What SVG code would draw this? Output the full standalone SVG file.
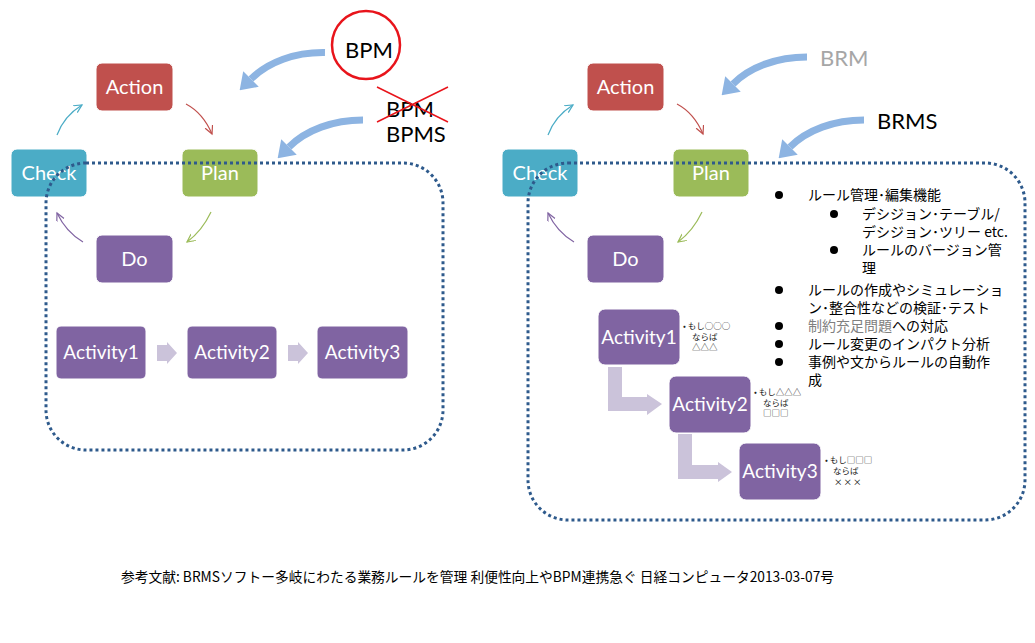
<svg xmlns="http://www.w3.org/2000/svg" width="1035" height="643" viewBox="0 0 1035 643">
<defs>
<style>
.box{stroke:#ffffff;stroke-width:1}
.act{fill:#C0504D}.chk{fill:#4BACC6}.pln{fill:#9BBB59}.pur{fill:#8064A2}
.nt{font-family:Lato,"Liberation Sans",sans-serif;font-size:20px;fill:#ffffff;text-anchor:middle}
.at{font-family:Lato,"Liberation Sans",sans-serif;font-size:19px;fill:#ffffff;text-anchor:middle}
.big{fill:none;stroke:#8DB4E2;stroke-width:7}
.thin{fill:none;stroke-width:1.2}
.dot{fill:none;stroke:#2E5A8C;stroke-width:3;stroke-dasharray:3 3}
.chev{fill:#CBC3DA}
.lbl{font-family:Lato,"Liberation Sans",sans-serif;font-size:22px}
.jp{font-family:"Noto Sans CJK JP",sans-serif;font-size:14px;fill:#000000}
.note{font-family:"Noto Sans CJK JP",sans-serif;font-size:8.5px;fill:#222222}
</style>
<marker id="bh" markerUnits="userSpaceOnUse" markerWidth="16" markerHeight="22" refX="0" refY="11" orient="auto"><path d="M0,0 L16,11 L0,22 z" fill="#8DB4E2"/></marker>
<marker id="mC" markerUnits="userSpaceOnUse" markerWidth="10" markerHeight="10" refX="8" refY="4" orient="auto"><path d="M0,0 L8,4 L0,8" fill="none" stroke="#4BACC6" stroke-width="1.2"/></marker>
<marker id="mA" markerUnits="userSpaceOnUse" markerWidth="10" markerHeight="10" refX="8" refY="4" orient="auto"><path d="M0,0 L8,4 L0,8" fill="none" stroke="#C0504D" stroke-width="1.2"/></marker>
<marker id="mP" markerUnits="userSpaceOnUse" markerWidth="10" markerHeight="10" refX="8" refY="4" orient="auto"><path d="M0,0 L8,4 L0,8" fill="none" stroke="#9BBB59" stroke-width="1.2"/></marker>
<marker id="mD" markerUnits="userSpaceOnUse" markerWidth="10" markerHeight="10" refX="8" refY="4" orient="auto"><path d="M0,0 L8,4 L0,8" fill="none" stroke="#8064A2" stroke-width="1.2"/></marker>
</defs>
<rect width="1035" height="643" fill="#ffffff"/>

<!-- LEFT PANEL -->
<g id="L-action"><rect class="box act" x="96" y="63" width="77" height="48" rx="6"/><text class="nt" x="134.5" y="94">Action</text></g>
<g id="L-check"><rect class="box chk" x="11" y="149" width="76" height="48" rx="6"/><text class="nt" x="49" y="180">Check</text></g>
<g id="L-plan"><rect class="box pln" x="182" y="149" width="76" height="48" rx="6"/><text class="nt" x="220" y="180">Plan</text></g>
<g id="L-do"><rect class="box pur" x="96" y="235" width="77" height="48" rx="6"/><text class="nt" x="134.5" y="266">Do</text></g>
<g id="L-act1"><rect class="box pur" x="56" y="326" width="90" height="53" rx="5"/><text class="at" x="101" y="359">Activity1</text></g>
<g id="L-act2"><rect class="box pur" x="187" y="326" width="90" height="53" rx="5"/><text class="at" x="232" y="359">Activity2</text></g>
<g id="L-act3"><rect class="box pur" x="317" y="326" width="91" height="53" rx="5"/><text class="at" x="362.5" y="359">Activity3</text></g>
<g id="L-bpm">
<circle cx="366" cy="45" r="34" fill="none" stroke="#E8141B" stroke-width="2.5"/>
<text class="lbl" x="345" y="58" fill="#000">BPM</text>
</g>
<g id="L-bpms">
<text class="lbl" x="386" y="117" fill="#000">BPM</text>
<text class="lbl" x="386" y="142" fill="#000">BPMS</text>
<path d="M377,87 L448,122 M377,122 L448,87" stroke="#E8141B" stroke-width="1.5"/>
</g>

<!-- RIGHT PANEL -->
<g id="R-action"><rect class="box act" x="587" y="63" width="77" height="48" rx="6"/><text class="nt" x="625.5" y="94">Action</text></g>
<g id="R-check"><rect class="box chk" x="502" y="149" width="76" height="48" rx="6"/><text class="nt" x="540" y="180">Check</text></g>
<g id="R-plan"><rect class="box pln" x="673" y="149" width="76" height="48" rx="6"/><text class="nt" x="711" y="180">Plan</text></g>
<g id="R-do"><rect class="box pur" x="587" y="235" width="77" height="48" rx="6"/><text class="nt" x="625.5" y="266">Do</text></g>
<g id="R-act1"><rect class="box pur" x="598" y="309" width="82" height="56" rx="7"/><text class="at" x="639" y="344">Activity1</text></g>
<g id="R-act2"><rect class="box pur" x="669" y="376" width="82" height="57" rx="7"/><text class="at" x="710" y="411">Activity2</text></g>
<g id="R-act3"><rect class="box pur" x="739" y="443" width="82" height="57" rx="7"/><text class="at" x="780" y="478">Activity3</text></g>
<g id="R-note1" class="note"><text x="683" y="329">• もし○○○</text><text x="692" y="340">ならば</text><text x="692" y="350">△△△</text></g>
<g id="R-note2" class="note"><text x="754" y="395">• もし△△△</text><text x="763" y="406">ならば</text><text x="763" y="416">□□□</text></g>
<g id="R-note3" class="note"><text x="825" y="463">• もし□□□</text><text x="833" y="474">ならば</text><text x="834" y="485" letter-spacing="1">×××</text></g>
<g id="R-brm"><text class="lbl" x="820" y="66" fill="#A6A6A6">BRM</text></g>
<g id="R-brms"><text class="lbl" x="877" y="129" fill="#000">BRMS</text></g>
<g id="R-list">
<circle cx="779" cy="195" r="4"/><text class="jp" x="808" y="200">ルール管理･編集機能</text>
<circle cx="834" cy="214" r="4"/><text class="jp" x="862" y="219">デシジョン･テーブル/</text>
<text class="jp" x="862" y="237">デシジョン･ツリー etc.</text>
<circle cx="834" cy="250" r="4"/><text class="jp" x="862" y="255">ルールのバージョン管</text>
<text class="jp" x="862" y="273">理</text>
<circle cx="779" cy="290" r="4"/><text class="jp" x="808" y="295">ルールの作成やシミュレーショ</text>
<text class="jp" x="808" y="313">ン･整合性などの検証･テスト</text>
<circle cx="779" cy="326" r="4"/><text class="jp" x="808" y="331"><tspan fill="#808080">制約充足問題</tspan>への対応</text>
<circle cx="779" cy="344" r="4"/><text class="jp" x="808" y="349">ルール変更のインパクト分析</text>
<circle cx="779" cy="362" r="4"/><text class="jp" x="808" y="367">事例や文からルールの自動作</text>
<text class="jp" x="808" y="385">成</text>
</g>

<!-- containers -->
<g id="containers">
<rect class="dot" x="46" y="163" width="397" height="287" rx="40"/>
<rect class="dot" x="528" y="163" width="497" height="357" rx="40"/>
</g>

<!-- connectors -->
<g id="connectors">
<path class="thin" stroke="#4BACC6" marker-end="url(#mC)" d="M57,135 Q64,116 82,105"/>
<path class="thin" stroke="#C0504D" marker-end="url(#mA)" d="M186,104 Q203,113 212,134"/>
<path class="thin" stroke="#9BBB59" marker-end="url(#mP)" d="M211,212 Q202,231 187,242"/>
<path class="thin" stroke="#8064A2" marker-end="url(#mD)" d="M83,242 Q66,232 57,213"/>
<path class="thin" stroke="#4BACC6" marker-end="url(#mC)" d="M548,135 Q555,116 573,105"/>
<path class="thin" stroke="#C0504D" marker-end="url(#mA)" d="M677,104 Q694,113 703,134"/>
<path class="thin" stroke="#9BBB59" marker-end="url(#mP)" d="M702,212 Q693,231 678,242"/>
<path class="thin" stroke="#8064A2" marker-end="url(#mD)" d="M574,242 Q557,232 548,213"/>
<path class="big" marker-end="url(#bh)" d="M325,52.5 C295,52 268,62 251,79"/>
<path class="big" marker-end="url(#bh)" d="M363,120 C333,120 306,130 289,147"/>
<path class="big" marker-end="url(#bh)" d="M807,57 C777,57 750,67 733,84"/>
<path class="big" marker-end="url(#bh)" d="M864,120 C834,120 807,130 790,147"/>
<path class="chev" d="M157,345 L167,345 L167,342 L177,353 L167,364 L167,361 L157,361 z"/>
<path class="chev" d="M288,345 L298,345 L298,342 L308,353 L298,364 L298,361 L288,361 z"/>
<path class="chev" d="M608,367 L622,367 L622,397 L647,397 L647,394 L662,404 L647,415 L647,411 L608,411 z"/>
<path class="chev" d="M678,434 L692,434 L692,465 L718,465 L718,462 L732,472 L718,482 L718,479 L678,479 z"/>
</g>

<g id="footer"><text x="121" y="582" font-family="'Noto Sans CJK JP',sans-serif" font-size="14" fill="#000" textLength="713" lengthAdjust="spacingAndGlyphs">参考文献: BRMSソフトー多岐にわたる業務ルールを管理 利便性向上やBPM連携急ぐ 日経コンピュータ2013-03-07号</text></g>
</svg>
